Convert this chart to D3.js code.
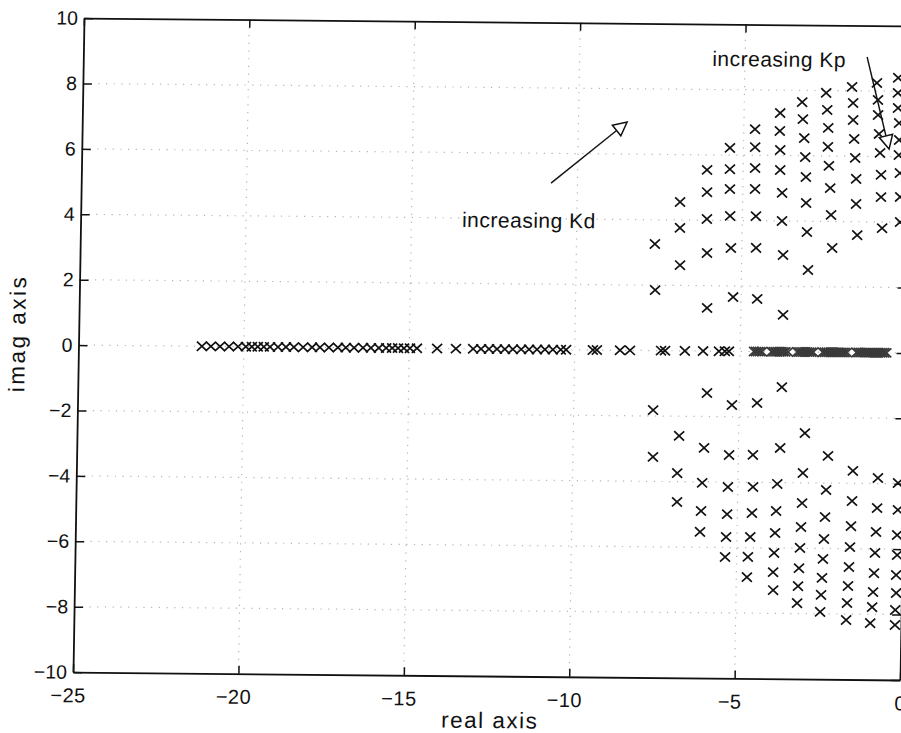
<!DOCTYPE html>
<html><head><meta charset="utf-8">
<script src="https://cdn.jsdelivr.net/npm/d3@7"></script>
<style>
body{margin:0;background:#fff;}
svg text{font-family:"Liberation Sans",Arial,Helvetica,sans-serif;fill:#111;}
</style>
</head><body>
<svg id="chart" width="901" height="733"></svg>
<script>
// ---- data ----
const xTicks = [-25, -20, -15, -10, -5, 0];
const yTicks = [-10, -8, -6, -4, -2, 0, 2, 4, 6, 8, 10];
const xLabel = "real axis";
const yLabel = "imag axis";

// poles on the real axis (imag = 0)
const realAxisRe = [-21.27,-21.0,-20.72,-20.45,-20.18,-19.94,-19.76,-19.58,-19.40,-19.21,-18.97,-18.73,-18.49,-18.21,-17.94,-17.70,-17.43,-17.16,-16.92,-16.67,-16.40,-16.16,-15.92,-15.70,-15.52,-15.34,-15.16,-14.98,-14.77,
  -14.16,-13.59,
  -13.07,-12.83,-12.59,-12.35,-12.11,-11.87,-11.62,-11.38,-11.14,-10.90,-10.66,-10.42,-10.26,
  -9.45,-9.33,-8.63,-8.33,-7.39,-7.27,-6.67,-6.12,-5.64,-5.46,-5.34,
  -4.58,-4.52,-4.46,-4.40,-4.34,
  -4.05,-3.99,-3.93,-3.87,-3.81,-3.75,-3.69,-3.63,-3.55,
  -3.27,-3.21,-3.15,-3.09,-3.03,-2.97,-2.91,-2.85,-2.79,
  -2.50,-2.44,-2.38,-2.32,-2.26,-2.20,-2.14,-2.08,-2.02,-1.96,-1.90,-1.84,-1.77,
  -1.48,-1.42,-1.36,-1.30,-1.24,-1.18,-1.12,-1.06,-1.00,-0.94,-0.88,-0.82,-0.76,-0.70,-0.64,-0.58];

// complex poles, upper half plane
const upperRe = [-7.63,-7.60,
  -6.89,-6.88,-6.86,
  -6.09,-6.08,-6.07,-6.05,-6.02,
  -5.41,-5.40,-5.39,-5.37,-5.33,-5.24,
  -4.66,-4.65,-4.64,-4.63,-4.59,-4.57,-4.51,
  -3.91,-3.91,-3.89,-3.88,-3.81,-3.80,-3.75,-3.72,
  -3.25,-3.22,-3.17,-3.13,-3.10,-3.08,-3.04,-2.99,
  -2.53,-2.49,-2.45,-2.45,-2.41,-2.36,-2.32,-2.27,
  -1.75,-1.71,-1.70,-1.66,-1.62,-1.58,-1.57,-1.52,
  -1.00,-0.96,-0.95,-0.91,-0.87,-0.83,-0.82,-0.77,
  -0.36,-0.36,-0.35,-0.31,-0.30,-0.30,-0.26,-0.24,-0.23];
const upperIm = [3.26,1.85,
  4.55,3.76,2.62,
  5.54,4.86,4.04,3.00,1.32,
  6.22,5.57,4.96,4.14,3.16,1.66,
  6.80,6.25,5.61,4.97,4.14,3.17,1.61,
  7.30,6.75,6.17,5.56,4.86,4.00,2.96,1.13,
  7.64,7.12,6.54,5.96,5.35,4.56,3.67,2.51,
  7.93,7.41,6.86,6.28,5.70,5.02,4.20,3.19,
  8.12,7.63,7.11,6.53,5.95,5.31,4.54,3.59,
  8.25,7.73,7.27,6.69,6.11,5.44,4.76,3.81,
  8.41,7.95,7.49,7.03,6.51,6.05,5.50,4.77,4.00];

// complex poles, lower half plane
const lowerRe = [-7.60,-7.58,
  -6.80,-6.84,-6.83,
  -5.98,-6.04,-6.08,-6.10,-6.12,
  -5.22,-5.28,-5.30,-5.31,-5.33,-5.35,
  -4.46,-4.56,-4.54,-4.56,-4.60,-4.66,-4.68,
  -3.72,-3.74,-3.81,-3.83,-3.85,-3.87,-3.89,-3.88,
  -3.00,-3.04,-3.05,-3.07,-3.09,-3.11,-3.13,-3.15,
  -2.29,-2.33,-2.35,-2.37,-2.39,-2.41,-2.43,-2.45,
  -1.53,-1.54,-1.56,-1.58,-1.60,-1.62,-1.64,-1.66,
  -0.77,-0.78,-0.80,-0.82,-0.84,-0.86,-0.88,-0.93,
  -0.16,-0.15,-0.16,-0.15,-0.17,-0.16,-0.18,-0.18];
const lowerIm = [-1.82,-3.25,
  -2.60,-3.74,-4.62,
  -1.28,-2.96,-4.03,-4.89,-5.53,
  -1.64,-3.17,-4.15,-4.98,-5.68,-6.29,
  -1.57,-3.16,-4.14,-4.94,-5.67,-6.28,-6.90,
  -1.08,-2.94,-4.04,-4.87,-5.54,-6.15,-6.74,-7.29,
  -2.48,-3.70,-4.62,-5.35,-5.99,-6.61,-7.16,-7.68,
  -3.17,-4.21,-5.04,-5.71,-6.32,-6.90,-7.42,-7.94,
  -3.62,-4.54,-5.31,-5.95,-6.56,-7.14,-7.66,-8.18,
  -3.83,-4.75,-5.48,-6.12,-6.74,-7.32,-7.78,-8.27,
  -3.98,-4.80,-5.57,-6.18,-6.79,-7.34,-7.86,-8.32];

const annotations = [
  {text: "increasing Kp", at: [-5.99, 8.72], from: [-1.31, 9.04], to: [-0.60, 6.23]},
  {text: "increasing Kd", at: [-13.47, 3.72], from: [-10.80, 5.09], to: [-8.53, 6.98]}
];

// ---- drawing ----
const svg = d3.select("#chart");
svg.append("rect").attr("width", 901).attr("height", 733).attr("fill", "#fff");

const x = d3.scaleLinear().domain([-25, 0]).range([78.5, 905.5]);
const y = d3.scaleLinear().domain([-10, 10]).range([676, 22]);
const cx = 489, cy = 349;

// scanned page is slightly skewed
const g = svg.append("g")
  .attr("transform", `translate(${cx},${cy}) matrix(1,0.0096,-0.0168,1,0,0) translate(${-cx},${-cy})`);

// grid
const grid = g.append("g").attr("stroke", "#b4b4b4").attr("stroke-width", 1.2)
  .attr("stroke-dasharray", "1.2,6.5").attr("fill", "none");
grid.selectAll("line.v").data(xTicks.slice(1, -1)).join("line")
  .attr("x1", d => x(d)).attr("x2", d => x(d)).attr("y1", y(10)).attr("y2", y(-10));
grid.selectAll("line.h").data(yTicks.slice(1, -1)).join("line")
  .attr("x1", x(-25)).attr("x2", x(0)).attr("y1", d => y(d)).attr("y2", d => y(d));

// axes
function styleAxis(sel) {
  sel.selectAll("path.domain").attr("stroke", "#111").attr("stroke-width", 1.8);
  sel.selectAll(".tick line").attr("stroke", "#111").attr("stroke-width", 1.5);
  sel.selectAll(".tick text").attr("fill", "#111").attr("font-size", 19.5)
    .attr("font-family", '"Liberation Sans",Arial,sans-serif');
}
g.append("g").attr("transform", `translate(0,${y(-10)})`)
  .call(d3.axisBottom(x).tickValues(xTicks).tickSizeInner(-8).tickSizeOuter(0).tickPadding(16))
  .call(styleAxis)
  .call(s => s.selectAll(".tick text").attr("font-size", 20).attr("letter-spacing", 0.5)
    .attr("dx", d => d < 0 ? -5 : 0));
g.append("g").attr("transform", `translate(0,${y(10)})`)
  .call(d3.axisTop(x).tickValues(xTicks).tickSizeInner(-8).tickSizeOuter(0).tickFormat(""))
  .call(styleAxis);
g.append("g").attr("transform", `translate(${x(-25)},0)`)
  .call(d3.axisLeft(y).tickValues(yTicks).tickSizeInner(-9).tickSizeOuter(0).tickPadding(6))
  .call(styleAxis);
g.append("g").attr("transform", `translate(${x(0)},0)`)
  .call(d3.axisRight(y).tickValues(yTicks).tickSizeInner(-9).tickSizeOuter(0).tickFormat(""))
  .call(styleAxis);

// markers
const cross = "M-5,-4.6L5,4.6M-5,4.6L5,-4.6";
g.append("g").selectAll("path").data(realAxisRe).join("path")
  .attr("d", cross)
  .attr("transform", d => `translate(${x(d)},${y(0)})`)
  .attr("fill", "none").attr("stroke", d => d > -4.7 ? "#3a3a3a" : "#111").attr("stroke-width", 1.7);
const pts = upperRe.map((r, i) => [r, upperIm[i]])
  .concat(lowerRe.map((r, i) => [r, lowerIm[i]]));
g.append("g").selectAll("path").data(pts).join("path")
  .attr("d", cross)
  .attr("transform", d => `translate(${x(d[0])},${y(d[1])})`)
  .attr("fill", "none").attr("stroke", "#111").attr("stroke-width", 1.7);

// annotations
annotations.forEach(a => {
  g.append("text").attr("x", x(a.at[0])).attr("y", y(a.at[1]))
    .attr("font-size", 21).attr("letter-spacing", 0.5).text(a.text);
  const x1 = x(a.from[0]), y1 = y(a.from[1]), x2 = x(a.to[0]), y2 = y(a.to[1]);
  const L = Math.hypot(x2 - x1, y2 - y1), ux = (x2 - x1) / L, uy = (y2 - y1) / L;
  const hl = 13.5, hw = 6.8;
  const bx = x2 - ux * hl, by = y2 - uy * hl;
  g.append("line").attr("x1", x1).attr("y1", y1).attr("x2", bx).attr("y2", by)
    .attr("stroke", "#111").attr("stroke-width", 1.4);
  g.append("path")
    .attr("d", `M${x2},${y2}L${bx - uy * hw},${by + ux * hw}L${bx + uy * hw},${by - ux * hw}Z`)
    .attr("fill", "#fff").attr("stroke", "#111").attr("stroke-width", 1.5);
});

// axis labels
g.append("text").attr("x", 496).attr("y", 728).attr("text-anchor", "middle")
  .attr("font-size", 22.5).attr("letter-spacing", 1.5).text(xLabel);
g.append("text").attr("transform", "translate(25,338) rotate(-90)").attr("text-anchor", "middle")
  .attr("font-size", 22.5).attr("letter-spacing", 2.5).text(yLabel);
</script>
</body></html>
